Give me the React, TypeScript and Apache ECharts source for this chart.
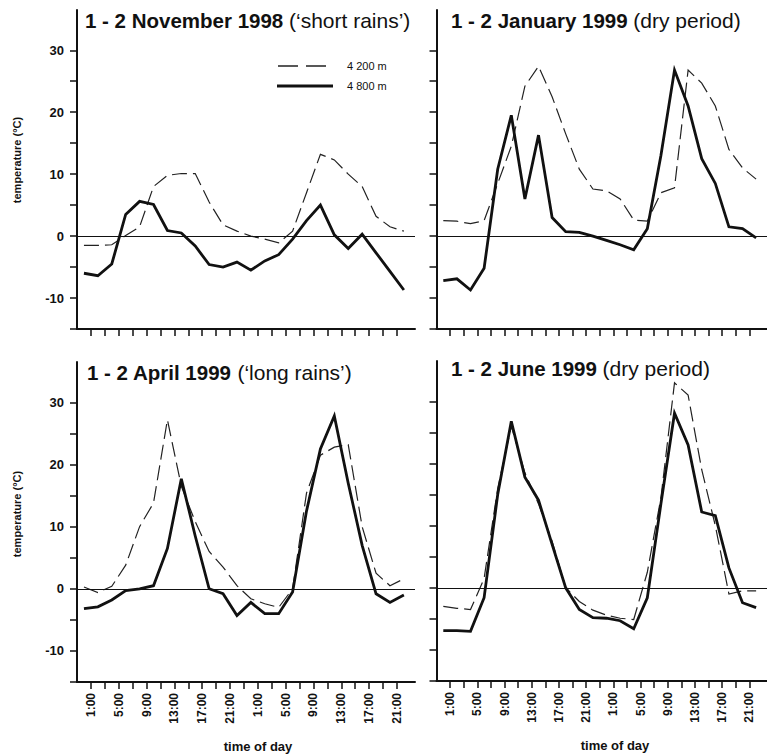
import React, { useEffect, useRef } from "react";
import * as echarts from "echarts";

// Sampling times in hours from the start of day 1 (two-hourly, two days)
const HOURS = [0, 2, 4, 6, 8, 10, 12, 14, 16, 18, 20, 22, 24, 26, 28, 30, 32, 34, 36, 38, 40, 42, 44, 46];

// Axis ticks and labels
const X_TICKS = [1, 3, 5, 7, 9, 11, 13, 15, 17, 19, 21, 23, 25, 27, 29, 31, 33, 35, 37, 39, 41, 43, 45];
const X_LABELS = [1, 5, 9, 13, 17, 21, 25, 29, 33, 37, 41, 45];
const Y_TICKS = [-15, -10, -5, 0, 5, 10, 15, 20, 25, 30];
const Y_LABELS = [-10, 0, 10, 20, 30];

const SERIES_NAMES = ["4 200 m", "4 800 m"];

// 1 - 2 November 1998
const NOV_4200 = [-1.5, -1.5, -1.4, 0.1, 1.5, 8.0, 9.8, 10.1, 10.1, 5.5, 1.8, 0.8, 0.0, -0.5, -1.1, 0.8, 7.0, 13.2, 12.3, 10.0, 8.0, 3.2, 1.5, 0.8];
const NOV_4800 = [-6.0, -6.4, -4.5, 3.5, 5.6, 5.1, 0.9, 0.5, -1.6, -4.6, -5.0, -4.2, -5.5, -4.0, -3.0, -0.5, 2.5, 5.0, 0.2, -2.0, 0.3, -2.7, -5.7, -8.7];

// 1 - 2 January 1999
const JAN_4200 = [2.5, 2.4, 2.0, 2.5, 8.5, 14.5, 24.2, 27.4, 22.5, 16.5, 10.8, 7.6, 7.3, 6.0, 2.6, 2.4, 7.0, 7.8, 26.8, 24.7, 21.0, 14.0, 11.0, 9.2];
const JAN_4800 = [-7.2, -6.9, -8.7, -5.2, 10.8, 19.5, 6.0, 16.3, 3.0, 0.7, 0.6, 0.0, -0.7, -1.4, -2.2, 1.2, 13.0, 26.8, 21.0, 12.5, 8.5, 1.5, 1.2, -0.3];

// 1 - 2 April 1999
const APR_4200 = [0.3, -0.6, 0.4, 3.8, 10.0, 13.8, 27.2, 16.5, 10.8, 6.0, 3.5, 0.5, -1.6, -2.4, -3.0, 0.0, 15.4, 21.5, 22.8, 23.2, 10.0, 2.5, 0.5, 1.6];
const APR_4800 = [-3.2, -2.9, -1.8, -0.3, 0.0, 0.5, 6.5, 17.7, 8.5, 0.0, -0.8, -4.3, -2.2, -4.0, -4.0, -0.5, 12.5, 22.5, 27.8, 17.0, 7.0, -0.8, -2.2, -1.0];

// 1 - 2 June 1999
const JUN_4200 = [-3.0, -3.3, -3.5, 1.5, 16.0, 26.0, 18.5, 13.5, 7.5, 0.0, -2.2, -3.6, -4.4, -4.9, -5.1, 2.5, 14.5, 33.0, 31.0, 19.0, 10.0, -1.0, -0.5, -0.5];
const JUN_4800 = [-6.9, -6.9, -7.0, -1.6, 15.0, 26.8, 17.8, 14.1, 7.0, 0.0, -3.5, -4.8, -4.9, -5.3, -6.6, -1.6, 13.5, 28.1, 23.0, 12.2, 11.6, 3.2, -2.4, -3.2];

const PANELS = [
  { bold: "1 - 2 November 1998", note: "(‘short rains’)", high: NOV_4200, low: NOV_4800 },
  { bold: "1 - 2 January 1999", note: "(dry period)", high: JAN_4200, low: JAN_4800 },
  { bold: "1 - 2 April 1999", note: "(‘long rains’)", high: APR_4200, low: APR_4800 },
  { bold: "1 - 2 June 1999", note: "(dry period)", high: JUN_4200, low: JUN_4800 },
];

const FONT = '"Liberation Sans", Arial, Helvetica, sans-serif';
const INK = "#111";
const DASH = [15, 6];

const GRIDS = [
  { left: 77, top: 10, width: 338, height: 319 },
  { left: 436.5, top: 10, width: 330.5, height: 319 },
  { left: 77, top: 362, width: 338, height: 320 },
  { left: 436.5, top: 361, width: 330.5, height: 320 },
];

const TITLE_POS = [
  { left: 85, top: 10 },
  { left: 451, top: 10 },
  { left: 87, top: 362 },
  { left: 451, top: 358 },
];

function buildOption() {
  const xAxis = GRIDS.map((_, i) => ({
    type: "value",
    gridIndex: i,
    min: -1,
    max: 47.6,
    axisLine: { show: true, onZero: false, lineStyle: { color: INK, width: 2 } },
    axisTick: { show: true, customValues: X_TICKS, length: 7, lineStyle: { color: INK, width: 1.5 } },
    axisLabel: {
      show: i >= 2,
      customValues: X_LABELS,
      rotate: 90,
      margin: 11,
      fontSize: 12,
      fontWeight: "bold",
      fontFamily: FONT,
      color: INK,
      formatter: (v: number) => `${v % 24}:00`,
    },
    splitLine: { show: false },
  }));

  const yAxis = GRIDS.map((_, i) => ({
    type: "value",
    gridIndex: i,
    min: -15,
    max: 36.5,
    axisLine: { show: true, onZero: false, lineStyle: { color: INK, width: 2 } },
    axisTick: { show: true, customValues: Y_TICKS, length: 7, lineStyle: { color: INK, width: 1.5 } },
    axisLabel: {
      show: i % 2 === 0,
      customValues: Y_LABELS,
      margin: 13,
      fontSize: 13,
      fontWeight: "bold",
      fontFamily: FONT,
      color: INK,
    },
    splitLine: { show: false },
  }));

  const series: any[] = [];
  PANELS.forEach((p, i) => {
    series.push({
      name: SERIES_NAMES[0],
      type: "line",
      xAxisIndex: i,
      yAxisIndex: i,
      data: HOURS.map((h, k) => [h, p.high[k]]),
      symbol: "none",
      lineStyle: { color: "#222", width: 1.2, type: DASH, join: "miter" },
      itemStyle: { color: "#222" },
      z: 3,
      markLine: {
        silent: true,
        symbol: ["none", "none"],
        label: { show: false },
        lineStyle: { color: INK, width: 1, type: "solid" },
        data: [{ yAxis: 0 }],
      },
    });
    series.push({
      name: SERIES_NAMES[1],
      type: "line",
      xAxisIndex: i,
      yAxisIndex: i,
      data: HOURS.map((h, k) => [h, p.low[k]]),
      symbol: "none",
      lineStyle: { color: INK, width: 2.8, type: "solid", join: "miter" },
      itemStyle: { color: INK },
      z: 4,
    });
  });

  const title = PANELS.map((p, i) => ({
    left: TITLE_POS[i].left,
    top: TITLE_POS[i].top,
    padding: 0,
    text: `{b|${p.bold}} {n|${p.note}}`,
    textStyle: {
      fontFamily: FONT,
      fontSize: 20.5,
      color: INK,
      rich: {
        b: { fontFamily: FONT, fontSize: 20.5, fontWeight: "bold", color: INK },
        n: { fontFamily: FONT, fontSize: 21, fontWeight: "normal", color: INK },
      },
    },
  }));

  const textStyle = (text: string, size: number, weight: string, align: string) => ({
    text,
    fontFamily: FONT,
    fontSize: size,
    fontWeight: weight,
    fill: INK,
    align,
    verticalAlign: "middle",
  });

  const graphic = [
    { type: "text", x: 17, y: 160, rotation: Math.PI / 2, style: textStyle("temperature (°C)", 11, "bold", "center") },
    { type: "text", x: 17, y: 514, rotation: Math.PI / 2, style: textStyle("temperature (°C)", 11, "bold", "center") },
    { type: "text", x: 258, y: 746, style: textStyle("time of day", 13, "bold", "center") },
    { type: "text", x: 615, y: 745, style: textStyle("time of day", 13, "bold", "center") },
    // key for the two stations
    {
      type: "line",
      shape: { x1: 278, y1: 66, x2: 331, y2: 66 },
      style: { stroke: "#222", lineWidth: 1.3, lineDash: [20, 8] },
    },
    {
      type: "line",
      shape: { x1: 277, y1: 86, x2: 333, y2: 86 },
      style: { stroke: INK, lineWidth: 2.8 },
    },
    { type: "text", x: 347, y: 66, style: textStyle(SERIES_NAMES[0], 11, "normal", "left") },
    { type: "text", x: 347, y: 86, style: textStyle(SERIES_NAMES[1], 11, "normal", "left") },
  ];

  return {
    animation: false,
    backgroundColor: "#ffffff",
    textStyle: { fontFamily: FONT },
    title,
    grid: GRIDS.map((g) => ({ ...g, containLabel: false })),
    xAxis,
    yAxis,
    series,
    graphic,
  };
}

export default function App() {
  const ref = useRef<HTMLDivElement>(null);
  useEffect(() => {
    if (!ref.current) return;
    const chart = echarts.init(ref.current, undefined, { renderer: "svg" });
    chart.setOption(buildOption() as any);
    return () => chart.dispose();
  }, []);
  return (
    <div
      ref={ref}
      style={{ position: "fixed", left: 0, top: 0, width: 767, height: 756, background: "#fff" }}
    />
  );
}
